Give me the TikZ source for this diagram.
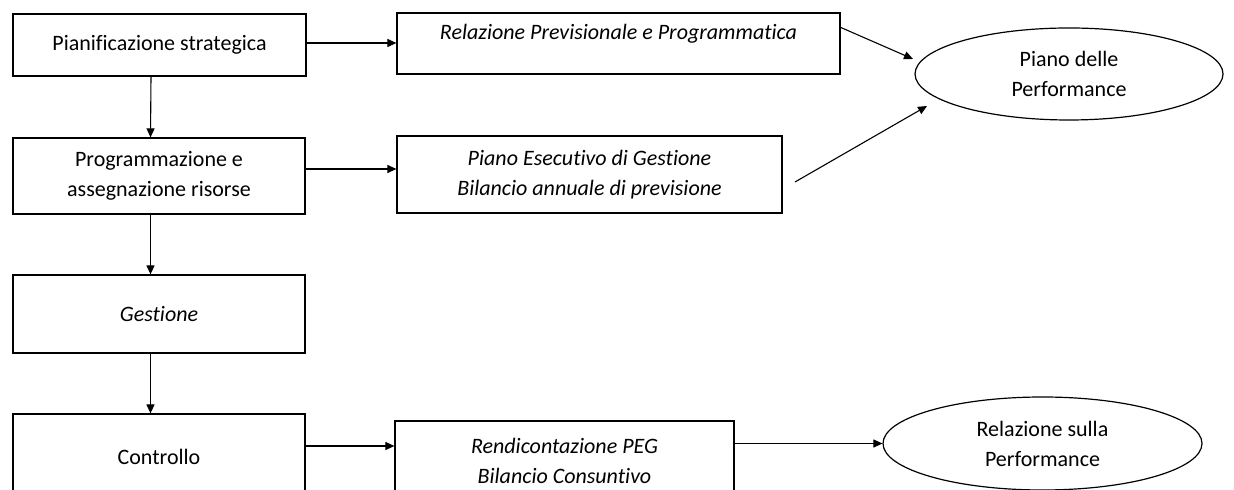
\documentclass[tikz,border=0pt]{standalone}
\usepackage{fontspec}
\setmainfont{Carlito}[Ligatures=NoCommon]
\usetikzlibrary{arrows.meta,shapes.geometric}

\tikzset{
  box/.style={draw, rectangle, line width=0.6pt, align=center, inner sep=0pt,
    font=\fontsize{11}{15}\selectfont},
  doc/.style={box, font=\fontsize{11}{15}\selectfont\itshape},
  perf/.style={draw, ellipse, line width=0.6pt, align=center, inner sep=0pt,
    font=\fontsize{11}{15}\selectfont},
  arr/.style={-{Triangle[length=4.5pt,width=4pt]}, line width=0.55pt}
}

\begin{document}
\begin{tikzpicture}[x=0.5pt, y=-0.5pt]
\useasboundingbox (0,0) rectangle (1234,490);
\clip (0,0) rectangle (1234,490);
% phases
\node[box, minimum width=146.5pt, minimum height=31pt] (pian) at (159.5,45) {Pianificazione strategica};
\node[box, minimum width=146pt, minimum height=38pt] (prog) at (159,176) {Programmazione e\\ assegnazione risorse};
\node[doc, minimum width=146pt, minimum height=39pt] (gest) at (159,314) {Gestione};
\node[box, minimum width=146pt, minimum height=43pt] (contr) at (159,457) {Controllo};
% documents
\node[doc, minimum width=221.5pt, minimum height=30.5pt] (rpp) at (618.5,43.5) {Relazione Previsionale e Programmatica\\[-3pt] ~};
\node[doc, minimum width=192.5pt, minimum height=38.5pt] (peg) at (589.5,174.5) {Piano Esecutivo di Gestione\\ Bilancio annuale di previsione};
\node[doc, minimum width=169.5pt, minimum height=40pt] (rend) at (564.5,461) {Rendicontazione PEG\\ Bilancio Consuntivo};
% performance
\node[perf, minimum width=154pt, minimum height=46pt] (piano) at (1069,74) {Piano delle\\ Performance};
\node[perf, minimum width=159.5pt, minimum height=46.5pt] (rel) at (1042.5,443.5) {Relazione sulla\\ Performance};
\coordinate (rppTip) at (913,59);
\coordinate (pegFrom) at (795,182);
\coordinate (pegTip) at (927,106);

\draw[arr] ([xshift=-4.25pt]pian.south) -- ([xshift=-4.25pt]prog.north);
\draw[arr] ([xshift=-4.25pt]prog.south) -- ([xshift=-4.25pt]gest.north);
\draw[arr] ([xshift=-4.25pt]gest.south) -- ([xshift=-4.25pt]contr.north);
\draw[arr] ([yshift=1pt]pian.east) -- ([yshift=1pt]pian.east -| rpp.west);
\draw[arr] ([yshift=3.5pt]prog.east) -- ([yshift=3.5pt]prog.east -| peg.west);
\draw[arr] ([yshift=5.5pt]contr.east) -- ([yshift=5.5pt]contr.east -| rend.west);
\draw[arr] (rel.west -| rend.east) -- (rel.west);
\draw[arr] ([yshift=-7.5pt]rpp.north east) -- (rppTip);
\draw[arr] (pegFrom) -- (pegTip);
\end{tikzpicture}
\end{document}
